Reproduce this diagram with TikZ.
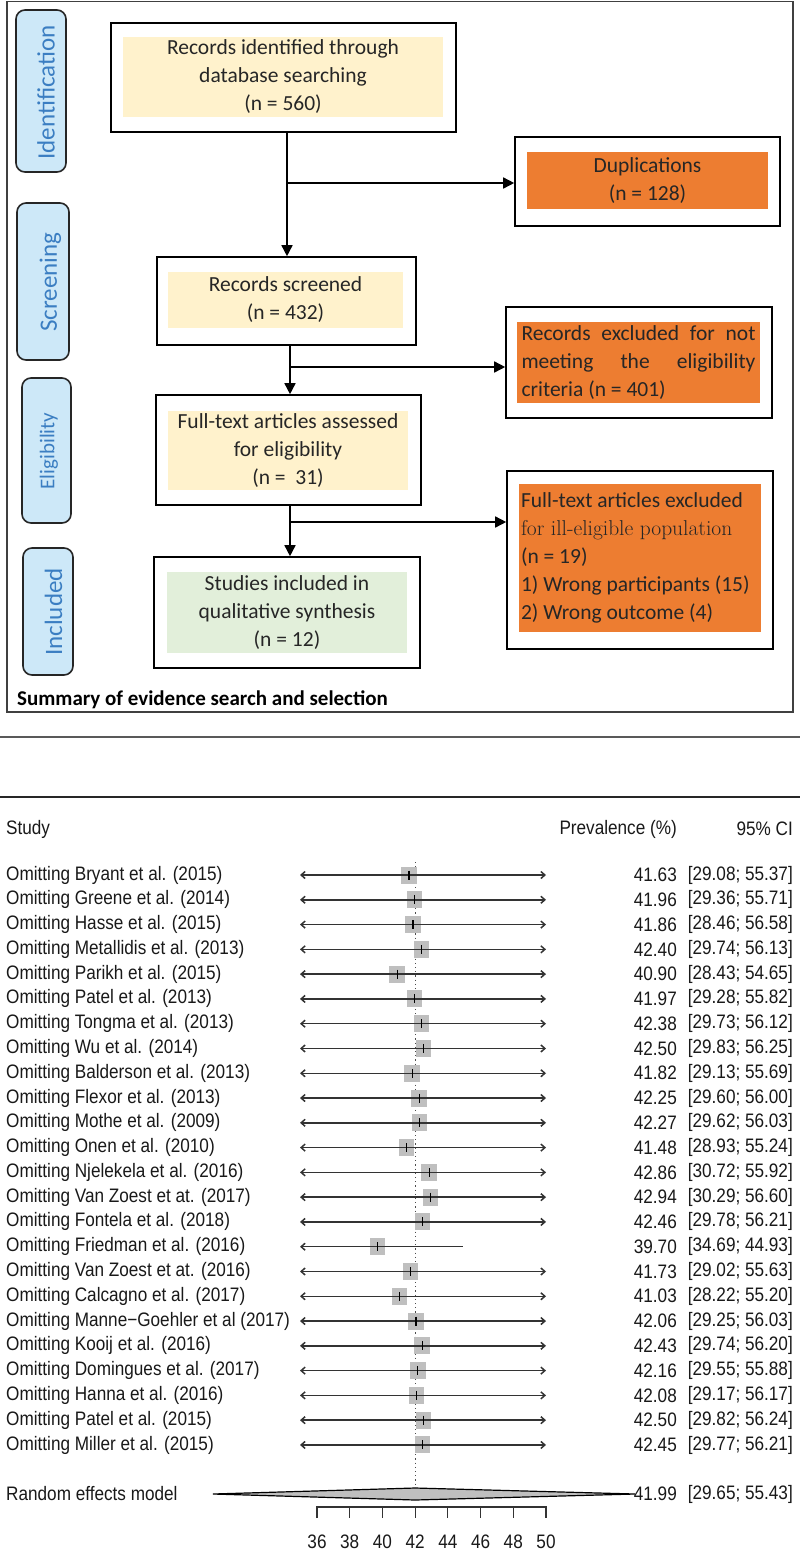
\documentclass[tikz,border=0pt]{standalone}
\usepackage{fontspec}
\usetikzlibrary{arrows.meta}
\newfontfamily\calfont{Carlito}
\newfontfamily\rfont[FakeStretch=0.88]{Liberation Sans}
\definecolor{yel}{HTML}{FFF2CC}
\definecolor{org}{HTML}{ED7D31}
\definecolor{grn}{HTML}{E2EFDA}
\definecolor{sidefill}{HTML}{CDE8F8}
\definecolor{sidetext}{HTML}{3B7EC2}
\definecolor{txt}{HTML}{262626}
\definecolor{boxgray}{HTML}{BFBFBF}
\begin{document}
\begin{tikzpicture}[x=1pt,y=-1pt,
 outerbox/.style={draw=black, line width=1.6pt, inner sep=0pt},
 fillbox/.style={inner sep=0pt, text=txt, font=\calfont\fontsize{21.5}{28}\selectfont},
 sidebox/.style={draw=black!85, line width=1.6pt, rounded corners=9pt, fill=sidefill, inner sep=0pt},
 sidetxt/.style={text=sidetext, font=\calfont\fontsize{25}{30}\selectfont, rotate=90, inner sep=0pt},
 flowarrow/.style={line width=1.5pt, -{Triangle[length=11pt,width=11pt]}},
 ftxt/.style={font=\rfont\fontsize{19.5}{22}\selectfont, text=black!90, inner sep=0pt},
 cibar/.style={line width=1.5pt, draw=black!80},
 bothx/.style={{Straight Barb[length=4pt,width=7pt]}-{Straight Barb[length=4pt,width=7pt]}},
 leftx/.style={{Straight Barb[length=4pt,width=7pt]}-},
]
\useasboundingbox (0,0) rectangle (800,1553);
\fill[white] (0,0) rectangle (800,1553);

% ---------- upper panel: flow diagram ----------
\draw[black!75, line width=1.5pt] (7,1.5) rectangle (793,712);

\node[sidebox, minimum width=50pt, minimum height=162pt] (sid) at (41,91) {};
\node[sidetxt] (tid) at (46,92.5) {Identification};
\node[sidebox, minimum width=52pt, minimum height=157pt] (sscr) at (43,281.5) {};
\node[sidetxt] (tscr) at (50.5,282) {Screening};
\node[sidebox, minimum width=49pt, minimum height=145pt] (selig) at (46.5,450.5) {};
\node[sidetxt, font=\calfont\fontsize{21}{24}\selectfont] (telig) at (49,451) {Eligibility};
\node[sidebox, minimum width=50pt, minimum height=127pt] (sinc) at (48,611.5) {};
\node[sidetxt] (tinc) at (53.5,612) {Included};

\node[outerbox, minimum width=345pt, minimum height=109pt] (b1o) at (283.5,77.5) {};
\node[fillbox, fill=yel, minimum width=320pt, minimum height=80pt, align=center] (b1) at (283,77) {Records identified through\\database searching\\(n = 560)};

\node[outerbox, minimum width=259pt, minimum height=88pt] (b2o) at (286.5,301) {};
\node[fillbox, fill=yel, minimum width=235pt, minimum height=56pt, align=center] (b2) at (285.5,300) {Records screened\\(n = 432)};

\node[outerbox, minimum width=265pt, minimum height=110pt] (b3o) at (288.5,450) {};
\node[fillbox, fill=yel, minimum width=240pt, minimum height=79pt, align=center] (b3) at (288,450.5) {Full-text articles assessed\\for eligibility\\(n = \ 31)};

\node[outerbox, minimum width=266pt, minimum height=111pt] (b4o) at (287,612.5) {};
\node[fillbox, fill=grn, minimum width=240pt, minimum height=81pt, align=center] (b4) at (287,612.5) {Studies included in\\qualitative synthesis\\(n = 12)};

\node[outerbox, minimum width=265pt, minimum height=89pt] (dupo) at (647.5,181.5) {};
\node[fillbox, fill=org, minimum width=241pt, minimum height=57pt, align=center] (dup) at (647.5,180.5) {Duplications\\(n = 128)};

\node[outerbox, minimum width=266pt, minimum height=111pt] (ex1o) at (639,362.5) {};
\node[fillbox, fill=org, minimum width=243pt, minimum height=81pt, align=left] (ex1) at (638.5,362.5) {\hbox to 234pt{Records\hfill excluded\hfill for\hfill not}\\\hbox to 234pt{meeting\hfill the\hfill eligibility}\\criteria (n = 401)};

\node[outerbox, minimum width=266pt, minimum height=178pt] (ex2o) at (640,560) {};
\node[fillbox, fill=org, minimum width=242pt, minimum height=148pt, align=flush left, text width=238pt] (ex2) at (640,558) {Full-text articles excluded\\{\rmfamily\fontsize{21.5}{28}\selectfont for ill-eligible population}\\(n = 19)\\1) Wrong participants (15)\\2) Wrong outcome (4)};

\coordinate (j1) at (287,183);
\draw[flowarrow] (b1o.south -| j1) -- (b2o.north -| j1);
\draw[flowarrow] (j1) -- (j1 -| dupo.west);
\coordinate (j2) at (290,367);
\draw[flowarrow] (b2o.south -| j2) -- (b3o.north -| j2);
\draw[flowarrow] (j2) -- (j2 -| ex1o.west);
\coordinate (j3) at (290,522);
\draw[flowarrow] (b3o.south -| j3) -- (b4o.north -| j3);
\draw[flowarrow] (j3) -- (j3 -| ex2o.west);

\node[anchor=west, inner sep=0pt, text=black, font=\calfont\bfseries\fontsize{21}{24}\selectfont] (cap) at (17,700) {Summary of evidence search and selection};

% ---------- separators ----------
\draw[black!65, line width=1.2pt] (0,737) -- (800,737);
\draw[black!85, line width=1.8pt] (0,797) -- (800,797);

% ---------- lower panel: forest plot ----------
\node[ftxt, anchor=west] (hstudy) at (6,829) {Study};
\node[ftxt, anchor=east] (hprev) at (677,829) {Prevalence (\%)};
\node[ftxt, anchor=east] (hci) at (793,829) {95\% CI};

\draw[black!70, line width=1pt, dash pattern=on 1.2pt off 3pt] (415.1,862) -- (415.1,1488);

\foreach \i/\nm/\est/\cil/\hx/\ar in {
1/Bryant et al. (2015)/41.63/{[29.08; 55.37]}/546/bothx,
2/Greene et al. (2014)/41.96/{[29.36; 55.71]}/546/bothx,
3/Hasse et al. (2015)/41.86/{[28.46; 56.58]}/546/bothx,
4/Metallidis et al. (2013)/42.40/{[29.74; 56.13]}/546/bothx,
5/Parikh et al. (2015)/40.90/{[28.43; 54.65]}/546/bothx,
6/Patel et al. (2013)/41.97/{[29.28; 55.82]}/546/bothx,
7/Tongma et al. (2013)/42.38/{[29.73; 56.12]}/546/bothx,
8/Wu et al. (2014)/42.50/{[29.83; 56.25]}/546/bothx,
9/Balderson et al. (2013)/41.82/{[29.13; 55.69]}/546/bothx,
10/Flexor et al. (2013)/42.25/{[29.60; 56.00]}/546/bothx,
11/Mothe et al. (2009)/42.27/{[29.62; 56.03]}/546/bothx,
12/Onen et al. (2010)/41.48/{[28.93; 55.24]}/546/bothx,
13/Njelekela et al. (2016)/42.86/{[30.72; 55.92]}/546/bothx,
14/Van Zoest et at. (2017)/42.94/{[30.29; 56.60]}/546/bothx,
15/Fontela et al. (2018)/42.46/{[29.78; 56.21]}/546/bothx,
16/Friedman et al. (2016)/39.70/{[34.69; 44.93]}/463/leftx,
17/Van Zoest et at. (2016)/41.73/{[29.02; 55.63]}/546/bothx,
18/Calcagno et al. (2017)/41.03/{[28.22; 55.20]}/546/bothx,
19/Manne−Goehler et al (2017)/42.06/{[29.25; 56.03]}/546/bothx,
20/Kooij et al. (2016)/42.43/{[29.74; 56.20]}/546/bothx,
21/Domingues et al. (2017)/42.16/{[29.55; 55.88]}/546/bothx,
22/Hanna et al. (2016)/42.08/{[29.17; 56.17]}/546/bothx,
23/Patel et al. (2015)/42.50/{[29.82; 56.24]}/546/bothx,
24/Miller et al. (2015)/42.45/{[29.77; 56.21]}/546/bothx}{
  \pgfmathsetmacro\yy{875+24.78*(\i-1)}
  \pgfmathsetmacro\xx{317+16.357*(\est-36)}
  \fill[boxgray] ({\xx-7.75},{\yy-8.5}) rectangle ({\xx+7.75},{\yy+8.5});
  \draw[cibar,\ar] (300,\yy) -- (\hx,\yy);
  \draw[black, line width=1.3pt] (\xx,{\yy-4.5}) -- (\xx,{\yy+4.5});
  \node[ftxt, anchor=west] (l\i) at (6,\yy) {Omitting \nm};
  \node[ftxt, anchor=east] (e\i) at (677,\yy) {\est};
  \node[ftxt, anchor=east] (c\i) at (793,\yy) {\cil};
}

\node[ftxt, anchor=west] (lre) at (6,1494) {Random effects model};
\filldraw[fill=boxgray, draw=black, line width=1.2pt] (213,1494) -- (415.1,1488) -- (635,1494) -- (415.1,1500) -- cycle;
\node[ftxt, anchor=east] (ere) at (677,1494) {41.99};
\node[ftxt, anchor=east] (cre) at (793,1494) {[29.65; 55.43]};

\draw[black!80, line width=1.2pt] (317,1518) -- (317,1507) -- (546,1507) -- (546,1518);
\foreach \v in {38,40,...,48}{
  \draw[black!80, line width=1.2pt] ({317+16.357*(\v-36)},1507) -- ({317+16.357*(\v-36)},1518);
}
\foreach \v in {36,38,...,50}{
  \node[ftxt] (t\v) at ({317+16.357*(\v-36)},1542) {\v};
}
\end{tikzpicture}
\end{document}
